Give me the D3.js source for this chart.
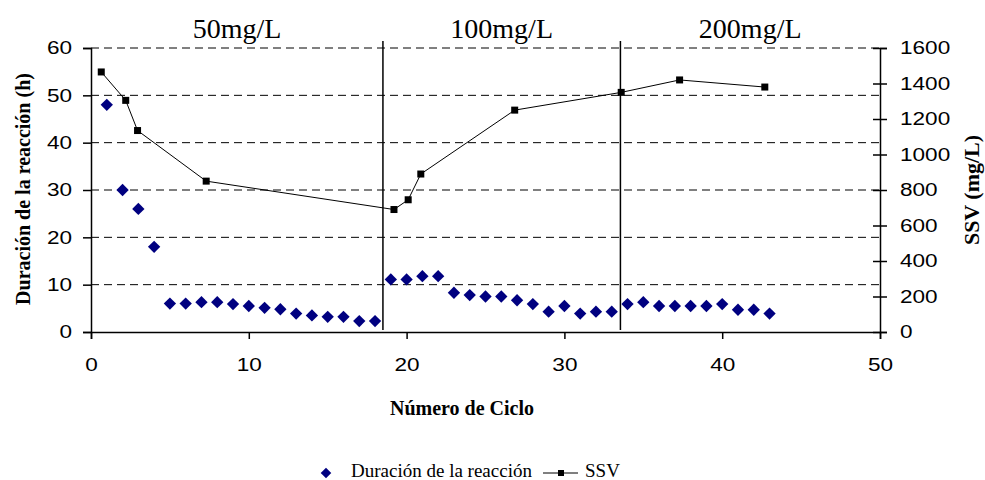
<!DOCTYPE html>
<html>
<head>
<meta charset="utf-8">
<script src="https://cdn.jsdelivr.net/npm/d3@7"></script>
<style>
  body { margin: 0; background: #fff; }
  .tick-num { font-family: "Liberation Sans", Arial, sans-serif; font-size: 18.5px; fill: #000; }
  .serif { font-family: "Liberation Serif", "Times New Roman", serif; fill: #000; }
</style>
</head>
<body>
<div id="chart"></div>
<script>
// ciclo 1..43, duración de la reacción (h)
const ciclos = d3.range(1, 44)
const duracion = [48, 30, 26, 18, 6, 6, 6.3, 6.3, 5.9, 5.5, 5.1, 4.8, 3.9, 3.5, 3.2, 3.2, 2.3, 2.3,
  11.1, 11.1, 11.8, 11.8, 8.3, 7.8, 7.5, 7.5, 6.7, 5.9, 4.3, 5.5, 3.9, 4.3, 4.3,
  5.9, 6.3, 5.5, 5.5, 5.5, 5.5, 5.9, 4.7, 4.7, 3.9]

// SSV (mg/L)
const ssvCiclo = [0.65, 2.2, 2.95, 7.3, 19.2, 20.1, 20.9, 26.85, 33.6, 37.3, 42.7]
const ssvValor = [1465, 1305, 1135, 850, 690, 745, 890, 1250, 1350, 1420, 1380]

// concentration phases
const fases = ['50mg/L', '100mg/L', '200mg/L']
const limites = [0, 18.5, 33.55, 50]

const xTicks = [0, 10, 20, 30, 40, 50]
const yLeftTicks = [0, 10, 20, 30, 40, 50, 60]
const yRightTicks = [0, 200, 400, 600, 800, 1000, 1200, 1400, 1600]

const width = 985, height = 480
const margin = {top: 48, bottom: 148, left: 91, right: 105}
const stretch = 1.22   // tick numbers are drawn wide in the original

const svg = d3.select('#chart')
  .append('svg')
  .attr('width', width)
  .attr('height', height)

const x = d3.scaleLinear().domain([0, 50]).range([margin.left, width - margin.right])
const yL = d3.scaleLinear().domain([0, 60]).range([height - margin.bottom, margin.top])
const yR = d3.scaleLinear().domain([0, 1600]).range([height - margin.bottom, margin.top])

// dashed gridlines (left axis)
svg.append('g')
  .selectAll('line')
  .data(yLeftTicks.filter(d => d > 0))
  .enter()
  .append('line')
  .attr('x1', x(0)).attr('x2', x(50))
  .attr('y1', d => yL(d)).attr('y2', d => yL(d))
  .attr('stroke', '#000')
  .attr('stroke-width', 1)
  .attr('stroke-dasharray', '8,5')

// phase separators
svg.append('g')
  .selectAll('line')
  .data(limites.slice(1, -1))
  .enter()
  .append('line')
  .attr('x1', d => x(d)).attr('x2', d => x(d))
  .attr('y1', yL(60) - 7).attr('y2', yL(0) - 2)
  .attr('stroke', '#000')
  .attr('stroke-width', 1.5)

svg.append('g')
  .selectAll('text')
  .data(fases)
  .enter()
  .append('text')
  .attr('class', 'serif')
  .attr('x', (d, i) => x((limites[i] + limites[i + 1]) / 2))
  .attr('y', 38)
  .attr('text-anchor', 'middle')
  .style('font-size', '28px')
  .text(d => d)

// axes
const xAxis = svg.append('g')
  .attr('transform', `translate(0,${yL(0)})`)
  .call(d3.axisBottom(x).tickValues(xTicks).tickSize(7).tickPadding(12).tickFormat(d3.format('d')))
const leftAxis = svg.append('g')
  .attr('transform', `translate(${x(0)},0)`)
  .call(d3.axisLeft(yL).tickValues(yLeftTicks).tickSize(8).tickPadding(11))
const rightAxis = svg.append('g')
  .attr('transform', `translate(${x(50)},0)`)
  .call(d3.axisRight(yR).tickValues(yRightTicks).tickSize(7).tickPadding(13).tickFormat(d3.format('d')))

rightAxis.selectAll('.tick line').attr('x1', -7)

;[xAxis, leftAxis, rightAxis].forEach(a => {
  a.select('.domain').attr('stroke', '#000').attr('stroke-width', 1.5)
  a.selectAll('.tick line').attr('stroke', '#000').attr('stroke-width', 1.5)
  a.selectAll('.tick text')
    .attr('class', 'tick-num')
    .attr('x', function() { return (+this.getAttribute('x') || 0) / stretch })
    .attr('transform', `scale(${stretch},1)`)
})
xAxis.selectAll('.tick text').attr('dy', '1.1em')

// SSV line
const line = d3.line()
  .x((d, i) => x(ssvCiclo[i]))
  .y(d => yR(d))

svg.append('path')
  .attr('d', line(ssvValor))
  .attr('fill', 'none')
  .attr('stroke', '#000')
  .attr('stroke-width', 1)

svg.append('g')
  .selectAll('rect')
  .data(ssvValor)
  .enter()
  .append('rect')
  .attr('x', (d, i) => x(ssvCiclo[i]) - 3.5)
  .attr('y', d => yR(d) - 3.5)
  .attr('width', 7).attr('height', 7)
  .attr('fill', '#000')

// duración diamonds
const diamond = d3.symbol().type(d3.symbolSquare).size(76)

svg.append('g')
  .selectAll('path')
  .data(duracion)
  .enter()
  .append('path')
  .attr('d', diamond)
  .attr('transform', (d, i) => `translate(${x(ciclos[i])},${yL(d)}) rotate(45)`)
  .attr('fill', '#000080')

// axis titles
svg.append('text')
  .attr('class', 'serif')
  .attr('x', 462).attr('y', 415)
  .attr('text-anchor', 'middle')
  .style('font-size', '20px').style('font-weight', 'bold')
  .text('Número de Ciclo')

svg.append('text')
  .attr('class', 'serif')
  .attr('transform', 'translate(30,189) rotate(-90)')
  .attr('text-anchor', 'middle')
  .style('font-size', '20px').style('font-weight', 'bold')
  .text('Duración de la reacción (h)')

svg.append('text')
  .attr('class', 'serif')
  .attr('transform', 'translate(979,190) rotate(-90)')
  .attr('text-anchor', 'middle')
  .style('font-size', '22px').style('font-weight', 'bold')
  .text('SSV (mg/L)')

// legend
const legend = svg.append('g').attr('transform', 'translate(0,473)')

legend.append('path')
  .attr('d', d3.symbol().type(d3.symbolSquare).size(56))
  .attr('transform', 'translate(326,0) rotate(45)')
  .attr('fill', '#000080')

legend.append('text')
  .attr('class', 'serif')
  .attr('x', 351).attr('y', 4)
  .style('font-size', '19px')
  .text('Duración de la reacción')

legend.append('line')
  .attr('x1', 543).attr('x2', 578)
  .attr('y1', 0).attr('y2', 0)
  .attr('stroke', '#000').attr('stroke-width', 1)

legend.append('rect')
  .attr('x', 558).attr('y', -3)
  .attr('width', 6).attr('height', 6)
  .attr('fill', '#000')

legend.append('text')
  .attr('class', 'serif')
  .attr('x', 585).attr('y', 4)
  .style('font-size', '19px')
  .text('SSV')
</script>
</body>
</html>
